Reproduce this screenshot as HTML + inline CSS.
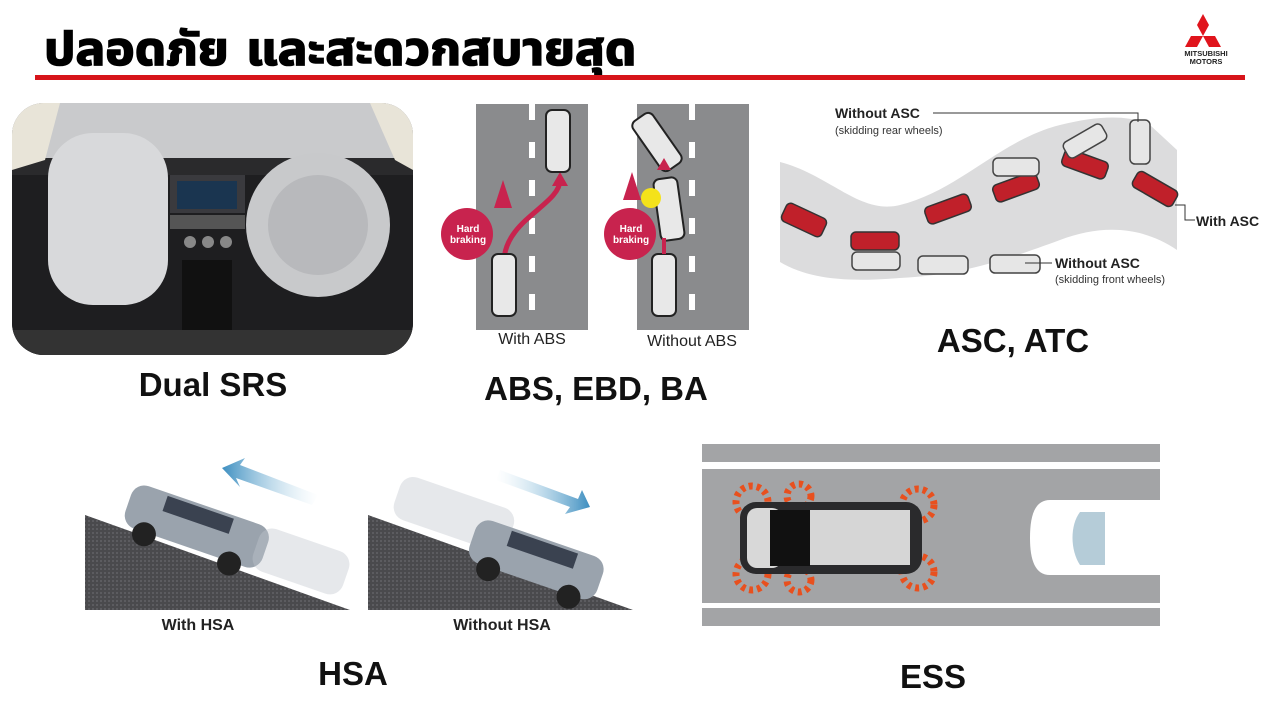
<!DOCTYPE html>
<html><head><meta charset="utf-8"><style>
body{margin:0;width:1280px;height:720px;background:#fff;position:relative;overflow:hidden;font-family:"Liberation Sans","DejaVu Sans",sans-serif}
.t{position:absolute;white-space:nowrap}
.cap{position:absolute;font-weight:bold;font-size:33px;color:#111;transform:translateX(-50%);white-space:nowrap}
svg{position:absolute;left:0;top:0}
</style></head><body>
<div class="t" style="left:44px;top:16px;font-size:46px;font-weight:bold;color:#000;font-family:'DejaVu Sans','Noto Sans Thai',sans-serif;-webkit-text-stroke:1.6px #000;transform:scaleX(1.08);transform-origin:0 0">ปลอดภัย และสะดวกสบายสุด</div>
<svg width="1280" height="720" viewBox="0 0 1280 720">
<rect x="35" y="75" width="1210" height="5" fill="#d7141a"/>
<!-- logo -->
<g fill="#e0141c">
<polygon points="1203,14 1209,25 1203,36 1197,25"/>
<polygon points="1203,36 1215,36 1221,47 1209,47"/>
<polygon points="1203,36 1191,36 1185,47 1197,47"/>
</g>
<text x="1206" y="56" font-size="7.5" font-weight="bold" text-anchor="middle" fill="#222">MITSUBISHI</text>
<text x="1206" y="64" font-size="7.5" font-weight="bold" text-anchor="middle" fill="#222">MOTORS</text>
<!-- airbag photo -->
<defs><clipPath id="c1"><rect x="12" y="103" width="401" height="252" rx="32"/></clipPath>
<linearGradient id="ar" x1="0" x2="1"><stop offset="0" stop-color="#bcdcec" stop-opacity="0"/><stop offset="1" stop-color="#3d8ec0"/></linearGradient>
<linearGradient id="ar2" x1="0" x2="1"><stop offset="0" stop-color="#3d8ec0"/><stop offset="1" stop-color="#bcdcec" stop-opacity="0"/></linearGradient>
<pattern id="asph" width="4" height="4" patternUnits="userSpaceOnUse"><rect width="4" height="4" fill="#4a4a4d"/><rect width="2" height="2" fill="#5c5c60"/></pattern></defs>
<g clip-path="url(#c1)">
<rect x="12" y="103" width="401" height="252" fill="#2a2a2c"/>
<rect x="12" y="103" width="401" height="55" fill="#c9cacc"/>
<path d="M12,103 L60,103 L45,160 L12,170Z" fill="#e8e4d8"/>
<path d="M413,103 L370,103 L395,160 L413,170Z" fill="#e8e4d8"/>
<rect x="12" y="175" width="401" height="180" fill="#1e1e20"/>
<rect x="170" y="175" width="75" height="38" fill="#3a3a3e"/>
<rect x="177" y="181" width="60" height="28" fill="#1a3550"/>
<rect x="170" y="215" width="75" height="14" fill="#555"/>
<circle cx="190" cy="242" r="6" fill="#888"/><circle cx="208" cy="242" r="6" fill="#888"/><circle cx="226" cy="242" r="6" fill="#888"/>
<rect x="182" y="260" width="50" height="75" fill="#111"/>
<rect x="12" y="330" width="401" height="25" fill="#333"/>
<rect x="48" y="133" width="120" height="172" rx="45" fill="#d8d9db"/>
<circle cx="318" cy="225" r="72" fill="#c8c9cb"/>
<circle cx="318" cy="225" r="50" fill="#b8b9bc"/>
</g>
<!-- ABS roads -->
<rect x="476" y="104" width="112" height="226" fill="#8a8b8d"/>
<rect x="637" y="104" width="112" height="226" fill="#8a8b8d"/>
<g stroke="#fff" stroke-width="6" stroke-dasharray="16,22"><line x1="532" y1="104" x2="532" y2="330"/><line x1="692" y1="104" x2="692" y2="330"/></g>
<path d="M504,262 C504,220 560,205 560,180" stroke="#c8234e" stroke-width="5" fill="none"/>
<polygon points="552,186 560,172 568,186" fill="#c8234e"/>
<rect x="492" y="254" width="24" height="62" rx="6" fill="#e8e8e8" stroke="#222" stroke-width="2"/>
<rect x="546" y="110" width="24" height="62" rx="6" fill="#e8e8e8" stroke="#222" stroke-width="2"/>
<rect x="652" y="254" width="24" height="62" rx="6" fill="#e8e8e8" stroke="#222" stroke-width="2"/>
<rect x="657" y="178" width="24" height="62" rx="6" fill="#e8e8e8" stroke="#222" stroke-width="2" transform="rotate(-8 669 209)"/>
<rect x="645" y="112" width="24" height="60" rx="6" fill="#e8e8e8" stroke="#222" stroke-width="2" transform="rotate(-35 657 142)"/>
<line x1="664" y1="254" x2="664" y2="238" stroke="#c8234e" stroke-width="4"/>
<polygon points="657,170 664,158 671,170" fill="#c8234e"/>
<polygon points="503,180 494,208 512,208" fill="#c8234e"/>
<polygon points="632,172 623,200 641,200" fill="#c8234e"/>
<circle cx="651" cy="198" r="10" fill="#f4e21a"/>
<circle cx="467" cy="234" r="26" fill="#c8234e"/>
<circle cx="630" cy="234" r="26" fill="#c8234e"/>
<g font-size="10" font-weight="bold" fill="#fff" text-anchor="middle"><text x="468" y="232">Hard</text><text x="468" y="243">braking</text><text x="631" y="232">Hard</text><text x="631" y="243">braking</text></g>
<text x="532" y="344" font-size="16" text-anchor="middle" fill="#222">With ABS</text>
<text x="692" y="346" font-size="16" text-anchor="middle" fill="#222">Without ABS</text>
<!-- ASC road -->
<path d="M780,162 C830,175 860,215 900,205 C960,190 1000,140 1060,125 C1100,115 1130,115 1150,125 L1177,150 L1177,250 C1140,225 1100,225 1060,240 C1000,262 960,275 900,278 C850,282 810,280 780,262 Z" fill="#dcdcdd"/>
<g fill="#c0202a" stroke="#333" stroke-width="1.5">
<rect x="782" y="210" width="44" height="20" rx="5" transform="rotate(25 804 220)"/>
<rect x="851" y="232" width="48" height="18" rx="5"/>
<rect x="925" y="200" width="46" height="18" rx="5" transform="rotate(-20 948 209)"/>
<rect x="993" y="178" width="46" height="18" rx="5" transform="rotate(-20 1016 187)"/>
<rect x="1062" y="155" width="46" height="18" rx="5" transform="rotate(20 1085 164)"/>
<rect x="1132" y="180" width="46" height="18" rx="5" transform="rotate(30 1155 189)"/>
</g>
<g fill="#e6e6e6" stroke="#444" stroke-width="1.5">
<rect x="852" y="252" width="48" height="18" rx="5"/>
<rect x="918" y="256" width="50" height="18" rx="5"/>
<rect x="990" y="255" width="50" height="18" rx="5"/>
<rect x="993" y="158" width="46" height="18" rx="5"/>
<rect x="1063" y="132" width="44" height="18" rx="5" transform="rotate(-30 1085 141)"/>
<rect x="1130" y="120" width="20" height="44" rx="5"/>
</g>
<polyline points="933,113 1138,113 1138,122" stroke="#333" fill="none"/>
<polyline points="1175,205 1185,205 1185,220 1195,220" stroke="#333" fill="none"/>
<line x1="1025" y1="263" x2="1052" y2="263" stroke="#333"/>
<text x="835" y="118" font-size="14" font-weight="bold" fill="#222">Without ASC</text>
<text x="835" y="134" font-size="11" fill="#333">(skidding rear wheels)</text>
<text x="1196" y="226" font-size="14" font-weight="bold" fill="#222">With ASC</text>
<text x="1055" y="268" font-size="14" font-weight="bold" fill="#222">Without ASC</text>
<text x="1055" y="283" font-size="11" fill="#333">(skidding front wheels)</text>
<!-- HSA -->
<polygon points="85,515 350,610 85,610" fill="url(#asph)"/>
<polygon points="368,515 633,610 368,610" fill="url(#asph)"/>
<polygon points="222,468 245,458 240,465 318,495 312,505 236,478 240,487" fill="url(#ar2)"/>
<polygon points="500,470 578,499 582,490 590,507 565,514 570,507 496,480" fill="url(#ar)"/>
<g transform="rotate(19 200 525)"><rect x="125" y="505" width="145" height="45" rx="14" fill="#9aa3ad"/><rect x="160" y="508" width="70" height="16" fill="#3a4250"/><circle cx="150" cy="552" r="12" fill="#222"/><circle cx="240" cy="552" r="12" fill="#222"/></g>
<g transform="rotate(19 290 555)" opacity="0.4"><rect x="255" y="535" width="95" height="45" rx="14" fill="#c0c6cc"/></g>
<g transform="rotate(19 450 510)" opacity="0.4"><rect x="395" y="490" width="120" height="45" rx="14" fill="#c0c6cc"/></g>
<g transform="rotate(19 530 555)"><rect x="470" y="535" width="135" height="45" rx="14" fill="#9aa3ad"/><rect x="505" y="538" width="70" height="16" fill="#3a4250"/><circle cx="495" cy="582" r="12" fill="#222"/><circle cx="580" cy="582" r="12" fill="#222"/></g>
<text x="198" y="630" font-size="16" font-weight="bold" text-anchor="middle" fill="#222">With HSA</text>
<text x="502" y="630" font-size="16" font-weight="bold" text-anchor="middle" fill="#222">Without HSA</text>
<!-- ESS -->
<rect x="702" y="444" width="458" height="18" fill="#a3a4a6"/>
<rect x="702" y="469" width="458" height="134" fill="#a3a4a6"/>
<rect x="702" y="608" width="458" height="18" fill="#a3a4a6"/>
<g fill="none" stroke="#e8501e" stroke-width="7" stroke-dasharray="4,4">
<circle cx="752" cy="502" r="16"/><circle cx="799" cy="496" r="12"/><circle cx="918" cy="505" r="16"/>
<circle cx="752" cy="574" r="16"/><circle cx="799" cy="580" r="12"/><circle cx="918" cy="572" r="16"/>
</g>
<rect x="740" y="502" width="182" height="72" rx="16" fill="#2a2a2c"/>
<rect x="747" y="508" width="35" height="60" rx="10" fill="#d8d8d8"/>
<rect x="770" y="510" width="40" height="56" fill="#111"/>
<rect x="810" y="510" width="100" height="55" fill="#d6d6d6"/>
<path d="M1160,500 L1050,500 C1035,500 1030,515 1030,538 C1030,560 1035,575 1050,575 L1160,575Z" fill="#fff"/>
<path d="M1080,512 C1070,525 1070,550 1080,565 L1105,565 L1105,512Z" fill="#b5ccd8"/>
</svg>
<div class="cap" style="left:213px;top:366px">Dual SRS</div>
<div class="cap" style="left:596px;top:370px">ABS, EBD, BA</div>
<div class="cap" style="left:1013px;top:322px">ASC, ATC</div>
<div class="cap" style="left:353px;top:655px">HSA</div>
<div class="cap" style="left:933px;top:658px">ESS</div>
</body></html>
